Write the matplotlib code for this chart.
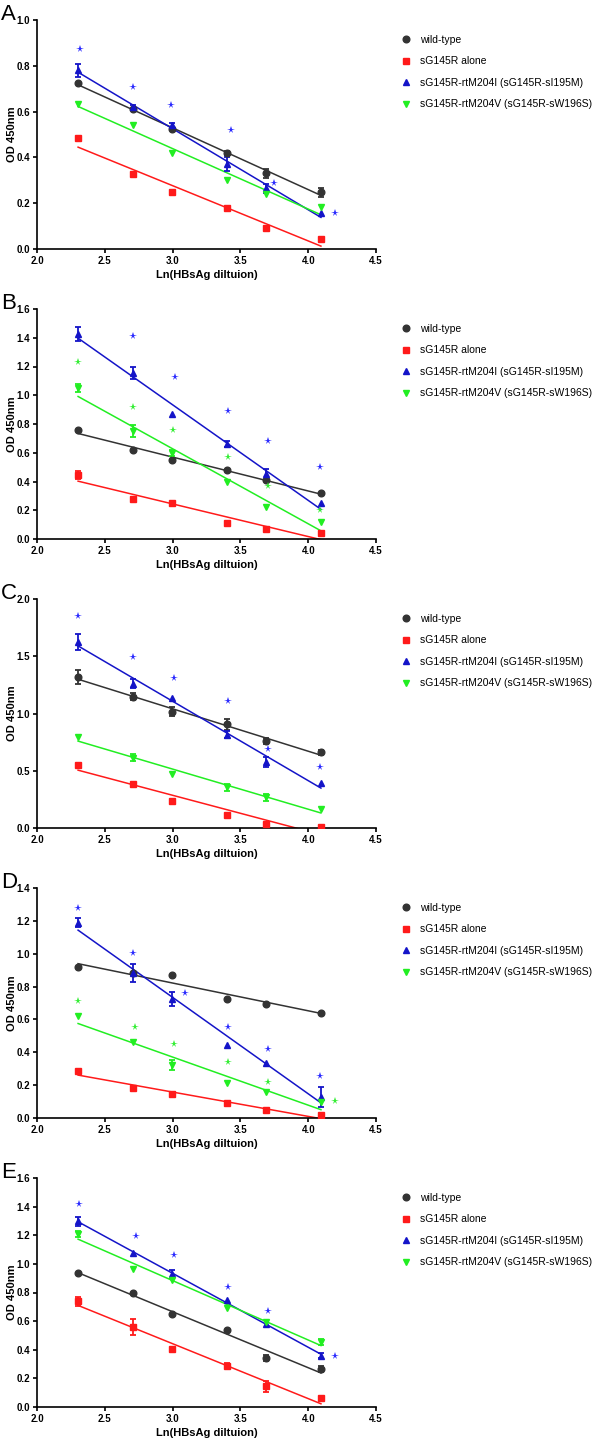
import numpy as np
import matplotlib
matplotlib.use('Agg')
import matplotlib.pyplot as plt
from matplotlib.lines import Line2D

plt.rcParams['font.family'] = ['Liberation Sans', 'DejaVu Sans']

# x = ln of the HBsAg dilution (10, 15, 20, 30, 40, 60)
x = [2.303, 2.708, 2.996, 3.401, 3.689, 4.094]

names = ['wild-type', 'sG145R alone',
         'sG145R-rtM204I (sG145R-sI195M)', 'sG145R-rtM204V (sG145R-sW196S)']

# panel A
A_wt = [0.723, 0.61, 0.523, 0.42, 0.33, 0.247]
A_wt_err = [0, 0, 0, 0.01, 0.02, 0.02]
A_r = [0.483, 0.328, 0.247, 0.178, 0.092, 0.044]
A_r_err = [0, 0, 0, 0, 0, 0]
A_b = [0.78, 0.619, 0.54, 0.37, 0.265, 0.156]
A_b_err = [0.03, 0.01, 0.01, 0.03, 0.02, 0]
A_g = [0.633, 0.54, 0.418, 0.30, 0.24, 0.185]
A_g_err = [0, 0, 0, 0, 0, 0]
A_bstar_x = [2.32, 2.71, 2.99, 3.43, 3.75, 4.2]
A_bstar_y = [0.873, 0.707, 0.627, 0.52, 0.288, 0.156]
A_gstar_x = []
A_gstar_y = []

# panel B
B_wt = [0.76, 0.62, 0.548, 0.48, 0.41, 0.32]
B_wt_err = [0, 0, 0, 0, 0, 0]
B_r = [0.446, 0.276, 0.25, 0.11, 0.072, 0.04]
B_r_err = [0.03, 0, 0, 0, 0, 0]
B_b = [1.426, 1.154, 0.87, 0.66, 0.45, 0.25]
B_b_err = [0.05, 0.04, 0, 0.02, 0.04, 0]
B_g = [1.05, 0.75, 0.60, 0.40, 0.225, 0.12]
B_g_err = [0.03, 0.04, 0.02, 0, 0, 0]
B_bstar_x = [2.32, 2.71, 3.02, 3.41, 3.70, 4.09]
B_bstar_y = [1.64, 1.41, 1.13, 0.89, 0.68, 0.50]
B_gstar_x = [2.30, 2.71, 3.0, 3.41, 3.70, 4.09]
B_gstar_y = [1.23, 0.92, 0.76, 0.567, 0.37, 0.20]

# panel C
C_wt = [1.32, 1.146, 1.015, 0.904, 0.76, 0.66]
C_wt_err = [0.06, 0.03, 0.04, 0.05, 0.03, 0.02]
C_r = [0.554, 0.385, 0.236, 0.117, 0.038, 0.01]
C_r_err = [0, 0, 0, 0, 0, 0]
C_b = [1.627, 1.262, 1.137, 0.816, 0.577, 0.397]
C_b_err = [0.07, 0.04, 0, 0.03, 0.04, 0]
C_g = [0.796, 0.612, 0.475, 0.356, 0.268, 0.163]
C_g_err = [0, 0.03, 0, 0.03, 0.03, 0]
C_bstar_x = [2.30, 2.71, 3.01, 3.41, 3.70, 4.09]
C_bstar_y = [1.85, 1.496, 1.31, 1.108, 0.69, 0.536]
C_gstar_x = []
C_gstar_y = []

# panel D
D_wt = [0.917, 0.88, 0.868, 0.726, 0.696, 0.641]
D_wt_err = [0, 0, 0, 0, 0, 0]
D_r = [0.288, 0.183, 0.146, 0.089, 0.049, 0.016]
D_r_err = [0, 0, 0, 0, 0, 0]
D_b = [1.19, 0.88, 0.724, 0.446, 0.337, 0.13]
D_b_err = [0.03, 0.055, 0.04, 0, 0, 0.06]
D_g = [0.619, 0.46, 0.325, 0.213, 0.16, 0.10]
D_g_err = [0, 0, 0.03, 0, 0, 0]
D_bstar_x = [2.30, 2.71, 3.09, 3.41, 3.70, 4.09]
D_bstar_y = [1.278, 1.004, 0.76, 0.552, 0.422, 0.256]
D_gstar_x = [2.30, 2.72, 3.01, 3.41, 3.70, 4.20]
D_gstar_y = [0.712, 0.552, 0.45, 0.343, 0.219, 0.103]

# panel E
E_wt = [0.936, 0.80, 0.647, 0.538, 0.342, 0.265]
E_wt_err = [0, 0, 0, 0, 0.02, 0.02]
E_r = [0.738, 0.56, 0.403, 0.289, 0.144, 0.063]
E_r_err = [0.03, 0.055, 0, 0.02, 0.04, 0]
E_b = [1.297, 1.076, 0.93, 0.745, 0.582, 0.359]
E_b_err = [0.03, 0, 0.03, 0, 0, 0.02]
E_g = [1.211, 0.964, 0.89, 0.692, 0.594, 0.454]
E_g_err = [0.02, 0, 0, 0, 0, 0.02]
E_bstar_x = [2.31, 2.73, 3.01, 3.41, 3.70, 4.20]
E_bstar_y = [1.42, 1.195, 1.06, 0.84, 0.668, 0.359]
E_gstar_x = []
E_gstar_y = []

panels = [
    ('A', 1.0, 0.2, [A_wt, A_r, A_b, A_g], [A_wt_err, A_r_err, A_b_err, A_g_err],
     A_bstar_x, A_bstar_y, A_gstar_x, A_gstar_y),
    ('B', 1.6, 0.2, [B_wt, B_r, B_b, B_g], [B_wt_err, B_r_err, B_b_err, B_g_err],
     B_bstar_x, B_bstar_y, B_gstar_x, B_gstar_y),
    ('C', 2.0, 0.5, [C_wt, C_r, C_b, C_g], [C_wt_err, C_r_err, C_b_err, C_g_err],
     C_bstar_x, C_bstar_y, C_gstar_x, C_gstar_y),
    ('D', 1.4, 0.2, [D_wt, D_r, D_b, D_g], [D_wt_err, D_r_err, D_b_err, D_g_err],
     D_bstar_x, D_bstar_y, D_gstar_x, D_gstar_y),
    ('E', 1.6, 0.2, [E_wt, E_r, E_b, E_g], [E_wt_err, E_r_err, E_b_err, E_g_err],
     E_bstar_x, E_bstar_y, E_gstar_x, E_gstar_y),
]

colors = ['#333333', '#ff1a1a', '#1414c8', '#22ee22']
markers = ['o', 's', '^', 'v']
tops = [20, 309, 599, 888, 1178]
bottoms = [249, 539, 828, 1118, 1407]

W, H = 600, 1441
fig = plt.figure(figsize=(W / 100, H / 100), dpi=100)

for i, (letter, ymax, ystep, series, errs, bsx, bsy, gsx, gsy) in enumerate(panels):
    t, b = tops[i], bottoms[i]
    ax = fig.add_axes([37 / W, 1 - b / H, 339 / W, (b - t) / H])
    xa = np.array(x)
    for k in range(4):
        y = np.array(series[k])
        e = np.array(errs[k])
        # linear regression line over the data range
        slope, icpt = np.polyfit(xa, y, 1)
        ax.plot([xa[0], xa[-1]], [icpt + slope * xa[0], icpt + slope * xa[-1]],
                color=colors[k], lw=1.1, zorder=2)
        m = e > 0
        if m.any():
            ax.errorbar(xa[m], y[m], yerr=e[m], fmt='none', ecolor=colors[k],
                        elinewidth=1.3, capsize=2.5, capthick=1.3, zorder=3)
        ax.plot(xa, y, ls='none', marker=markers[k], ms=4.8, color=colors[k],
                mec=colors[k], zorder=4)
    if bsx:
        ax.plot(bsx, bsy, ls='none', marker='*', ms=5.5, color='#2a2aff', mew=0, zorder=5)
    if gsx:
        ax.plot(gsx, gsy, ls='none', marker='*', ms=5.5, color='#33ee33', mew=0, zorder=5)

    ax.set_xlim(2.0, 4.5)
    ax.set_ylim(0, ymax)
    ax.set_xticks(np.arange(2.0, 4.51, 0.5))
    ax.set_yticks(np.arange(0, ymax + 0.001, ystep))
    ax.xaxis.set_major_formatter(matplotlib.ticker.FormatStrFormatter('%.1f'))
    ax.yaxis.set_major_formatter(matplotlib.ticker.FormatStrFormatter('%.1f'))
    for s in ['top', 'right']:
        ax.spines[s].set_visible(False)
    for s in ['left', 'bottom']:
        ax.spines[s].set_linewidth(1.2)
    ax.tick_params(direction='out', length=3, width=1.2, labelsize=7, pad=2)
    for lab in ax.get_xticklabels() + ax.get_yticklabels():
        lab.set_fontweight('bold')
    ax.set_xlabel('Ln(HBsAg diltuion)', fontsize=8, fontweight='bold', labelpad=3)
    ax.set_ylabel('OD 450nm', fontsize=8, fontweight='bold')
    ax.yaxis.set_label_coords(-0.06, 0.5)

    fig.text(1 / W, 1 - t / H, letter, fontsize=16, va='baseline', ha='left')

    handles = [Line2D([], [], ls='none', marker=markers[k], color=colors[k], ms=4.8)
               for k in range(4)]
    ax.legend(handles, names, loc='upper left', frameon=False,
              bbox_to_anchor=(402 / W, 1 - (t + 15) / H), bbox_transform=fig.transFigure,
              fontsize=7.5, handlelength=0.8, handletextpad=0.9, labelspacing=1.1,
              borderaxespad=0, borderpad=0)

fig.savefig('out.png', dpi=100)
